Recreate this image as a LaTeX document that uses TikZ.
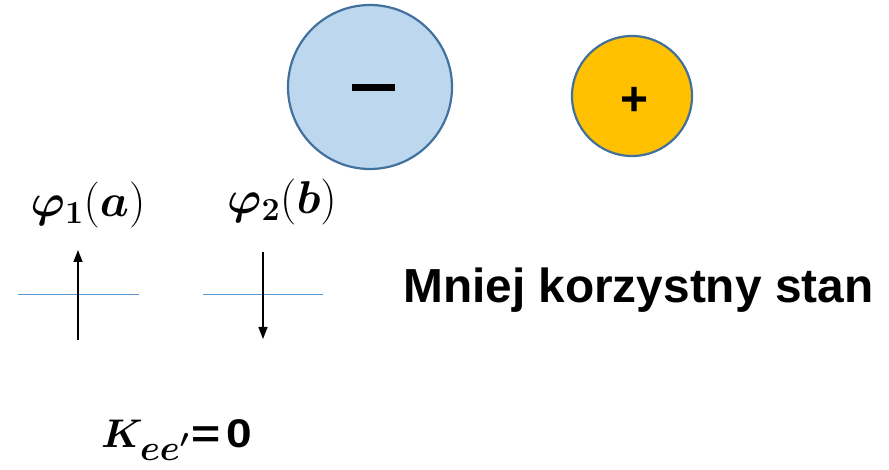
\RequirePackage{fix-cm}
\documentclass[tikz,border=0pt]{standalone}
\usepackage{amsmath}
\usepackage{bm}
\usepackage[no-math]{fontspec}
\setmainfont{Liberation Sans}
\usetikzlibrary{arrows.meta,positioning}

\definecolor{ionblue}{HTML}{BDD7EE}
\definecolor{ionedge}{HTML}{41719C}
\definecolor{ionorange}{HTML}{FFC000}
\definecolor{levelblue}{HTML}{5B9BD5}

\tikzset{
    ion/.style={circle,draw=ionedge,line width=2.2pt,inner sep=0pt},
    level/.style={levelblue,line width=0.8pt},
    spin/.style={-{Triangle[length=12pt,width=9pt]},line width=1.4pt},
    orbital/.style={font=\fontsize{46}{46}\selectfont}
}

\begin{document}
\begin{tikzpicture}[x=1pt,y=-1pt]
    \useasboundingbox (0,0) rectangle (889,470);

    % Ions
    \node[ion,fill=ionblue,minimum size=164pt] (anion) at (370,87) {};
    \fill (352,84) rectangle (395,91);
    \node[ion,fill=ionorange,minimum size=120pt] (cation) at (632,96) {};
    \node[font=\fontsize{48}{48}\selectfont\bfseries] (plus) at (635,101) {+};

    % Orbitals
    \node[orbital] (phia) at (88,205) {$\boldsymbol{\varphi}_{\mathbf{1}}\mathbf{(}\boldsymbol{a}\mathbf{)}$};
    \node[orbital] (phib) at (282,202) {$\boldsymbol{\varphi}_{\mathbf{2}}\mathbf{(}\boldsymbol{b}\mathbf{)}$};

    % Energy levels
    \coordinate (la1) at (18,294);
    \coordinate (la2) at (139,294);
    \coordinate (lb1) at (203,294);
    \coordinate (lb2) at (323,294);
    \draw[level] (la1) -- (la2);
    \draw[level] (lb1) -- (lb2);

    % Spins
    \coordinate (sa1) at (78,340);
    \coordinate (sa2) at (78,250);
    \coordinate (sb1) at (263,252);
    \coordinate (sb2) at (263,339);
    \draw[spin] (sa1) -- (sa2);
    \draw[spin] (sb1) -- (sb2);

    % Labels
    \node[anchor=west,inner sep=0pt,font=\fontsize{47.8}{48}\selectfont\bfseries] (state) at (403,290) {Mniej korzystny stan};
    \node[anchor=west,inner sep=0pt,font=\fontsize{40}{40}\selectfont] (exch) at (101,440)
        {$\boldsymbol{K}_{\text{\fontsize{36}{36}\selectfont$\boldsymbol{ee'}$}}$\hspace{2pt}\bfseries\scalebox{1.25}[1]{=}\hspace{6pt}\scalebox{1.15}[1]{0}};
\end{tikzpicture}
\end{document}
